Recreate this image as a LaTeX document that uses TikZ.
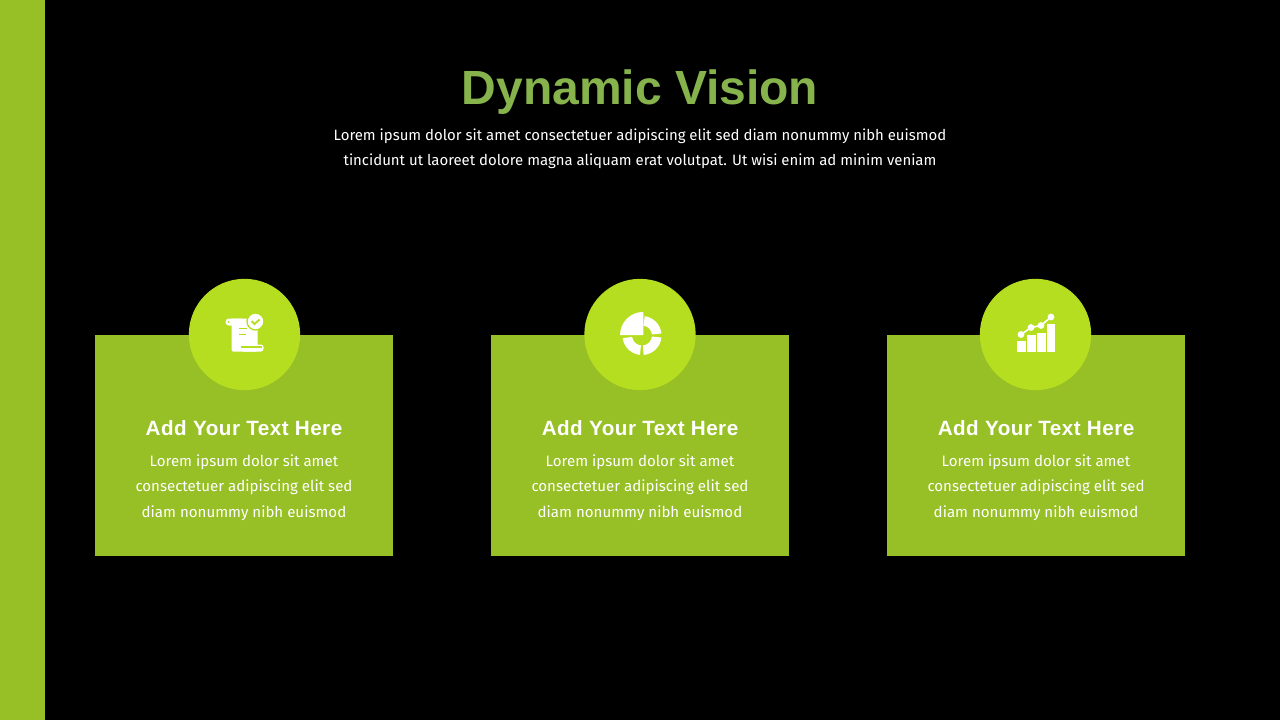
\documentclass[tikz,border=0pt]{standalone}
\usepackage{fontspec}
\setmainfont{Fira Sans}
\newfontfamily\titlefont{Liberation Sans}
\newfontfamily\headfont[LetterSpace=2.3]{Liberation Sans}
\usepackage{xcolor}
\definecolor{barGreen}{HTML}{97BF26}
\definecolor{discGreen}{HTML}{B5DE21}
\definecolor{titleGreen}{HTML}{86B34B}
\tikzset{
  cardbox/.style={fill=barGreen,draw=none,minimum width=223.5pt,minimum height=165.75pt,inner sep=0pt,outer sep=0pt},
  disc/.style={circle,fill=discGreen,draw=none,minimum size=83.5pt,inner sep=0pt,outer sep=0pt},
  cardhead/.style={text=white,font=\headfont\bfseries\fontsize{15.5}{18}\selectfont,inner sep=0pt},
  cardtext/.style={text=white,align=center,font=\fontsize{11.3}{19.2}\selectfont,inner sep=0pt},
}
\begin{document}
\begin{tikzpicture}[x=0.75pt,y=-0.75pt]
\useasboundingbox (0,0) rectangle (1280,720);
\fill[black] (0,0) rectangle (1280,720);
\fill[barGreen] (0,0) rectangle (45,720);
\node (title) [text=titleGreen,font=\titlefont\bfseries\fontsize{36}{40}\selectfont,inner sep=0pt] at (640,92) {Dynamic Vision};
\node (lead) [text=white,align=center,inner sep=0pt,font=\fontsize{11.2}{19}\selectfont] at (640,148.5) {Lorem ipsum dolor sit amet consectetuer adipiscing elit sed diam nonummy nibh euismod\\
tincidunt ut laoreet dolore magna aliquam erat volutpat. Ut wisi enim ad minim veniam};
% three cards
\foreach \i/\x/\d in {1/244/244.5,2/640/640,3/1036/1035.5} {
  \node (card\i) [cardbox] at (\x,445.5) {};
  \node (disc\i) [disc] at (\d,334.5) {};
  \node (head\i) [cardhead] at (\x,428) {Add Your Text Here};
  \node (text\i) [cardtext] at (\x,487.5) {Lorem ipsum dolor sit amet\\consectetuer adipiscing elit sed\\diam nonummy nibh euismod};
}
% scroll
\begin{scope}[shift={(disc1.center)},x=0.75pt,y=-0.75pt]
\fill[white,rounded corners=2.5pt] (-19,-16) rectangle (0,-9);
\fill[discGreen] (-16,-12.5) circle (1);
\fill[white,rounded corners=1pt] (-13,-16) rectangle (13,17);
\fill[white,rounded corners=2pt] (-4,10) rectangle (19,17);
\draw[discGreen,line width=1.4pt] (-6,-6) -- (2,-6) (-6,0) -- (1,0) (-4,12.5) -- (17,12.5);
\fill[white,draw=discGreen,line width=1pt] (11,-13) circle (8.5);
\draw[discGreen,line width=1.4pt] (7,-13.5) -- (10,-10.5) -- (15,-15);
\end{scope}
% pie
\begin{scope}[shift={(disc2.center)},x=0.75pt,y=0.75pt]
\fill[white] (3.3,-0.7) -- (-20,-0.7) arc[start angle=180,end angle=90,radius=23.3] -- cycle;
\foreach \a/\b in {6/82,-6/-85,-96/-172}
  \fill[white] ([shift={(\a:19.5)}]2,-1) arc[start angle=\a,end angle=\b,radius=19.5] -- ([shift={(\b:10)}]2,-1) arc[start angle=\b,end angle=\a,radius=10] -- cycle;
\end{scope}
% chart
\begin{scope}[shift={(disc3.center)},x=0.75pt,y=-0.75pt]
\fill[white] (-18.5,6.5) rectangle (-10,17);
\fill[white] (-8.5,0) rectangle (0,17);
\fill[white] (1.5,-2) rectangle (10,17);
\fill[white] (11.5,-11) rectangle (19.5,17);
\draw[white,line width=1.2pt] (-14.5,0) -- (-4.5,-7) -- (5.5,-9) -- (15.5,-17.5);
\foreach \p in {(-14.5,0),(-4.5,-7),(5.5,-9),(15.5,-17.5)} \fill[white] \p circle (3.4);
\end{scope}
\end{tikzpicture}
\end{document}
